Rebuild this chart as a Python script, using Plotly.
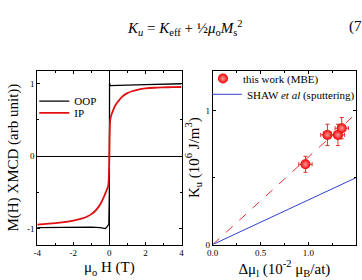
import plotly.graph_objects as go

# Left panel: XMCD hysteresis
oop_h = [-4, -3, -2, -1, -0.5, -0.3, -0.22, -0.15, -0.08, -0.03, 0.0, 0.01, 0.03, 0.06, 0.1, 0.3, 0.6, 1, 2, 3, 4]
oop_m = [-0.985, -0.98, -0.98, -0.98, -0.985, -0.99, -1.0, -0.98, -0.95, -0.94, -0.5, 1.01, 0.99, 0.975, 0.975, 0.978, 0.98, 0.982, 0.988, 0.994, 1.0]
ip_h = [-4, -3.5, -3, -2.5, -2, -1.5, -1.2, -1, -0.8, -0.6, -0.45, -0.3, -0.2, -0.12, -0.06, -0.02, 0.0, 0.02, 0.05, 0.1, 0.2, 0.35, 0.5, 0.7, 1.0, 1.3, 1.6, 2, 2.5, 3, 3.5, 4]
ip_m = [-0.945, -0.935, -0.925, -0.91, -0.89, -0.86, -0.83, -0.8, -0.76, -0.7, -0.64, -0.56, -0.5, -0.45, -0.4, -0.2, 0.05, 0.35, 0.5, 0.56, 0.63, 0.71, 0.76, 0.82, 0.87, 0.9, 0.92, 0.935, 0.945, 0.95, 0.953, 0.955]
h_ticks = [-4, -2, 0, 2, 4]
h_ticktext = ["-4", "-2", "0", "2", "4"]
m_ticks = [-1, 0, 1]
m_ticktext = ["-1", "0", "1"]

# Right panel: K_u vs delta mu_l
dmu = [0.97, 1.20, 1.31, 1.35]
ku = [0.60, 0.82, 0.82, 0.87]
dmu_err = [0.07, 0.07, 0.07, 0.07]
ku_err = [0.06, 0.08, 0.08, 0.08]
fit_x = [0.0, 1.5]
fit_y = [0.0, 0.98]
shaw_x = [0.0, 1.5]
shaw_y = [0.0, 0.50]
dmu_ticks = [0, 0.5, 1.0, 1.5]
dmu_ticktext = ["0.0", "0.5", "1.0", "1.5"]
ku_ticks = [0, 1]

SERIF = "Liberation Serif"

fig = go.Figure()
fig.add_trace(go.Scatter(x=oop_h, y=oop_m, mode="lines", name="OOP",
                         line=dict(color="black", width=1.3), xaxis="x", yaxis="y", legend="legend"))
fig.add_trace(go.Scatter(x=ip_h, y=ip_m, mode="lines", name="IP", line_shape="spline",
                         line=dict(color="#e01010", width=1.8), xaxis="x", yaxis="y", legend="legend3"))

fig.add_trace(go.Scatter(x=fit_x, y=fit_y, mode="lines", showlegend=False,
                         line=dict(color="#e03030", width=1, dash="dash"), xaxis="x2", yaxis="y2"))
fig.add_trace(go.Scatter(x=shaw_x, y=shaw_y, mode="lines", name="SHAW <i>et al</i> (sputtering)",
                         line=dict(color="#3040d0", width=1), xaxis="x2", yaxis="y2", legend="legend4"))
fig.add_trace(go.Scatter(x=dmu, y=ku, mode="markers", name="this work (MBE)",
                         marker=dict(color="#ee0000", size=10, gradient=dict(type="radial", color="#ff9a9a"),
                                     line=dict(width=0)),
                         error_x=dict(type="data", array=dmu_err, color="#e03030", thickness=1, width=2),
                         error_y=dict(type="data", array=ku_err, color="#e03030", thickness=1, width=2),
                         xaxis="x2", yaxis="y2", legend="legend2"))

W, H = 362, 280
def px(x): return x / W
def py(y): return 1 - y / H

axis_common = dict(showline=True, mirror="ticks", linecolor="black", linewidth=1, ticks="inside",
                   ticklen=3, tickcolor="black", showgrid=False,
                   tickfont=dict(family=SERIF, size=9, color="black"),
                   title_font=dict(family=SERIF, size=15, color="black"))

leg_common = dict(xanchor="left", yanchor="middle", bgcolor="rgba(0,0,0,0)",
                  font=dict(family=SERIF, size=11, color="black"), itemwidth=30)

fig.update_layout(
    width=W, height=H, margin=dict(l=0, r=0, t=0, b=0),
    paper_bgcolor="white", plot_bgcolor="white",
    xaxis=dict(domain=[px(32), px(180)], range=[-4, 4], tickvals=h_ticks, ticktext=h_ticktext,
               zeroline=True, zerolinecolor="black", zerolinewidth=1,
               minor=dict(ticks="inside", ticklen=2, dtick=1, tickcolor="black"),
               title=dict(text="μ<sub>o</sub> H (T)", standoff=4), anchor="y", **axis_common),
    yaxis=dict(domain=[py(249), py(72)], range=[-1.22, 1.18], tickvals=m_ticks, ticktext=m_ticktext,
               zeroline=True, zerolinecolor="black", zerolinewidth=1,
               minor=dict(ticks="inside", ticklen=2, dtick=0.5, tickcolor="black"),
               title=dict(text="M(H) XMCD (arb unit))", standoff=4), anchor="x", **axis_common),
    xaxis2=dict(domain=[px(212), px(359)], range=[0, 1.5], tickvals=dmu_ticks,
                ticktext=dmu_ticktext, zeroline=False,
                minor=dict(ticks="inside", ticklen=2, dtick=0.25, tickcolor="black"),
                title=dict(text="Δμ<sub>l</sub> (10<sup>-2</sup> μ<sub>B</sub>/at)", standoff=4),
                anchor="y2", **axis_common),
    yaxis2=dict(domain=[py(249), py(72)], range=[0, 1.3], tickvals=ku_ticks, zeroline=False,
                minor=dict(ticks="inside", ticklen=2, dtick=0.5, tickcolor="black"),
                title=dict(text="K<sub>u</sub> (10<sup>6</sup> J/m<sup>3</sup>)", standoff=2),
                anchor="x2", **axis_common),
    legend=dict(x=px(29), y=py(103), **leg_common),
    legend3=dict(x=px(29), y=py(115), **leg_common),
    legend2=dict(x=px(202), y=py(80), **leg_common),
    legend4=dict(x=px(206), y=py(96), **leg_common),
    annotations=[
        dict(text="<i>K<sub>u</sub></i> = <i>K</i><sub>eff</sub> + ½<i>μ</i><sub>o</sub><i>M</i><sub>s</sub><sup>2</sup>",
             x=px(184), y=py(16), xref="paper", yref="paper", showarrow=False,
             font=dict(family=SERIF, size=15, color="black")),
        dict(text="(7", x=px(350), y=py(16), xref="paper", yref="paper", showarrow=False,
             xanchor="left", font=dict(family=SERIF, size=15, color="black")),
    ],
)

fig.write_html("out.html")
